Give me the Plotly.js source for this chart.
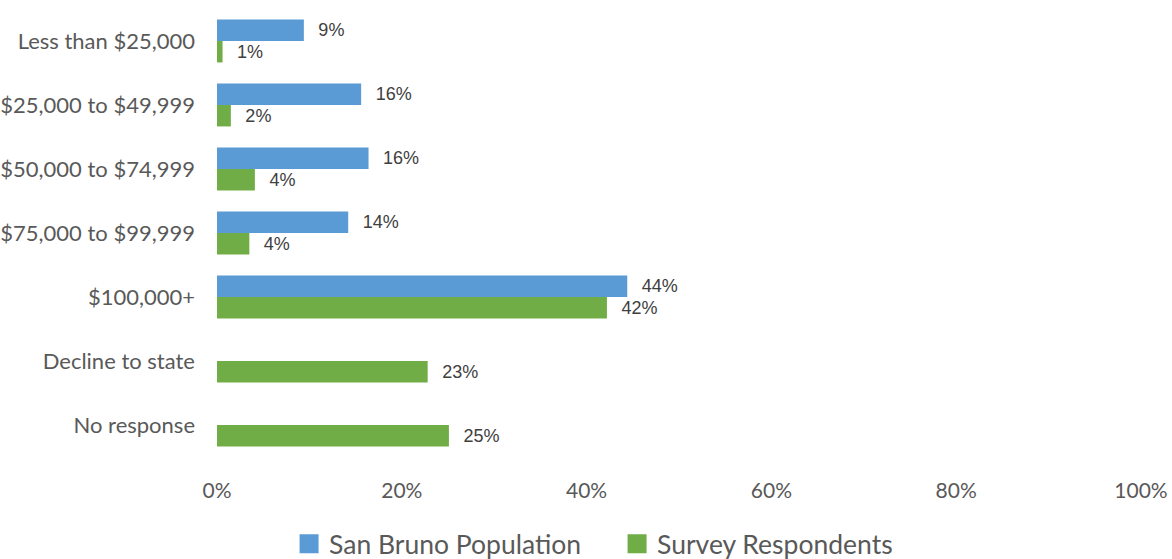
<!DOCTYPE html>
<html>
<head>
<meta charset="utf-8">
<script src="https://cdn.plot.ly/plotly-3.0.1.min.js"></script>
<style>html,body{margin:0;padding:0;background:#fff;}#chart{width:1172px;height:559px;}</style>
</head>
<body>
<div id="chart"></div>
<script>
const categories = ["Less than $25,000", "$25,000 to $49,999", "$50,000 to $74,999", "$75,000 to $99,999", "$100,000+", "Decline to state", "No response"];
const populationCats = ["Less than $25,000", "$25,000 to $49,999", "$50,000 to $74,999", "$75,000 to $99,999", "$100,000+"];
const populationValues = [9.4, 15.6, 16.4, 14.2, 44.4];
const respondentValues = [0.6, 1.5, 4.1, 3.5, 42.2, 22.8, 25.1];
const xTickVals = [0, 20, 40, 60, 80, 100];
const xTickText = ["0%", "20%", "40%", "60%", "80%", "100%"];
const seriesNames = ["San Bruno Population", "Survey Respondents"];
const seriesColors = ["#5B9BD5", "#70AD47"];

const labelFont = {family: "Liberation Sans, Arial, sans-serif", size: 18, color: "#404040"};
const pad = "\u00a0\u00a0\u200a";

const traces = [
  {
    type: "bar", orientation: "h", name: seriesNames[0], showlegend: false,
    y: populationCats, x: populationValues,
    marker: {color: seriesColors[0]},
    textposition: "outside", texttemplate: pad + "%{x:.0f}%",
    textfont: labelFont, cliponaxis: false, hoverinfo: "none"
  },
  {
    type: "bar", orientation: "h", name: seriesNames[1], showlegend: false,
    y: categories, x: respondentValues,
    marker: {color: seriesColors[1]},
    textposition: "outside", texttemplate: pad + "%{x:.0f}%",
    textfont: labelFont, cliponaxis: false, hoverinfo: "none"
  },
  // legend-only entries (larger square swatches)
  {type: "scatter", mode: "markers", name: seriesNames[0], x: [null], y: [null],
   marker: {symbol: "square", size: 16, color: seriesColors[0], line: {width: 3, color: seriesColors[0]}}, hoverinfo: "none"},
  {type: "scatter", mode: "markers", name: seriesNames[1], x: [null], y: [null],
   marker: {symbol: "square", size: 16, color: seriesColors[1], line: {width: 3, color: seriesColors[1]}}, hoverinfo: "none"}
];

const layout = {
  width: 1172, height: 559,
  margin: {l: 217, r: 31, t: 9, b: 102, autoexpand: false},
  paper_bgcolor: "#fff", plot_bgcolor: "#fff",
  barmode: "group", bargap: 0.33, bargroupgap: 0,
  showlegend: true,
  legend: {orientation: "h", x: 0.078, xanchor: "left", y: -0.194, yanchor: "middle",
    entrywidth: 283, itemsizing: "trace",
    font: {family: "Lato, sans-serif", size: 26.5, color: "#595959"}, traceorder: "normal"},
  xaxis: {
    range: [0, 100], tickmode: "array", tickvals: xTickVals, ticktext: xTickText,
    showgrid: false, zeroline: false, showline: false, ticks: "",
    ticklabelstandoff: 19,
    tickfont: {family: "Lato, sans-serif", size: 21, color: "#595959"}
  },
  yaxis: {
    categoryorder: "array", categoryarray: categories,
    autorange: "reversed", showgrid: false, zeroline: false, showline: false, ticks: "",
    ticklabelstandoff: 21,
    tickfont: {family: "Lato, sans-serif", size: 22, color: "#595959"}
  }
};

Plotly.newPlot("chart", traces, layout, {displayModeBar: false, staticPlot: true});
</script>
</body>
</html>
